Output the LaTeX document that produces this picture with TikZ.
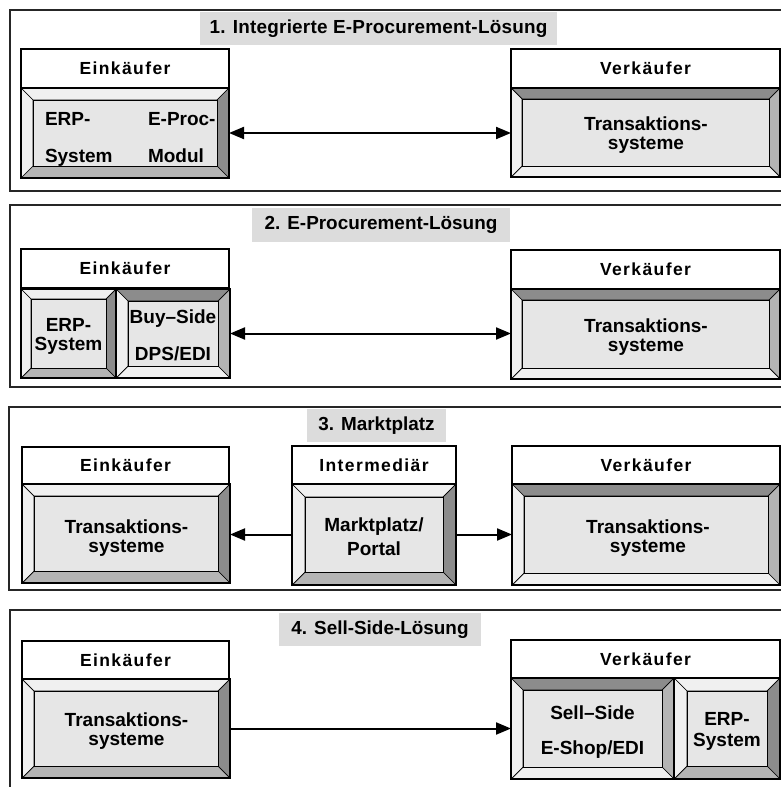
\documentclass[tikz,border=0pt]{standalone}
\usepackage{fontspec}
\setmainfont{Liberation Sans}
\usetikzlibrary{arrows.meta}

\definecolor{bvlight}{HTML}{F0F0F0}
\definecolor{bvface}{HTML}{E6E6E6}
\definecolor{bvmid}{HTML}{B4B4B4}
\definecolor{bvdark}{HTML}{8C8C8C}
\definecolor{ttlgray}{HTML}{DCDCDC}

\tikzset{
  bevraised/.code={\def\bT{bvlight}\def\bR{bvdark}\def\bB{bvmid}\def\bL{bvlight}},
  bevsunken/.code={\def\bT{bvdark}\def\bR{bvmid}\def\bB{bvlight}\def\bL{bvlight}},
  bevedge/.style={draw=black, line width=0.7pt, line join=miter},
  bevouter/.style={draw=black, line width=1.1pt},
  bevanchor/.style={rectangle, inner sep=0pt, outer sep=0pt},
  hdr/.style={draw=black, line width=1.1pt, fill=white, inner sep=0pt, outer sep=0pt,
    font=\fontsize{17.5}{20}\selectfont\bfseries\addfontfeature{LetterSpace=8}},
  ttl/.style={fill=ttlgray, inner sep=0pt, outer sep=0pt,
    font=\fontsize{18.9}{22}\selectfont\bfseries},
  widettl/.style={font=\fontsize{18.9}{22}\selectfont\bfseries\addfontfeature{LetterSpace=1.2}},
  txt/.style={inner sep=0pt, outer sep=0pt, font=\fontsize{19}{22}\selectfont\bfseries},
  frame/.style={draw=black!85, line width=1.2pt},
  arr/.style={line width=2pt, -{Triangle[length=15pt,width=12pt]}},
  arrboth/.style={line width=2pt, {Triangle[length=15pt,width=12pt]}-{Triangle[length=15pt,width=12pt]}},
}

% bevelled box: [style] {name}{x1}{y1}{x2}{y2}{bevel width}
\newcommand\bevbox[7][bevraised]{%
  \tikzset{#1}%
  \node[bevanchor, minimum width={(#5-#3)*1pt}, minimum height={(#6-#4)*1pt}]
    (#2) at ({(#3+#5)/2},{(#4+#6)/2}) {};
  \filldraw[bevedge, fill=\bT] (#3,#4) -- (#5,#4) -- ({#5-#7},{#4+#7}) -- ({#3+#7},{#4+#7}) -- cycle;
  \filldraw[bevedge, fill=\bR] (#5,#4) -- (#5,#6) -- ({#5-#7},{#6-#7}) -- ({#5-#7},{#4+#7}) -- cycle;
  \filldraw[bevedge, fill=\bB] (#5,#6) -- (#3,#6) -- ({#3+#7},{#6-#7}) -- ({#5-#7},{#6-#7}) -- cycle;
  \filldraw[bevedge, fill=\bL] (#3,#6) -- (#3,#4) -- ({#3+#7},{#4+#7}) -- ({#3+#7},{#6-#7}) -- cycle;
  \filldraw[bevedge, fill=bvface] ({#3+#7},{#4+#7}) rectangle ({#5-#7},{#6-#7});
  \draw[bevouter] (#3,#4) rectangle (#5,#6);
}

% header box: {name}{x1}{y1}{x2}{y2}{text}
\newcommand\hdrbox[6]{%
  \node[hdr, minimum width={(#4-#2)*1pt}, minimum height={(#5-#3)*1pt}]
    (#1) at ({(#2+#4)/2},{(#3+#5)/2}) {#6};
}

% title box: [extra style] {name}{x1}{y1}{x2}{y2}{text}
\newcommand\ttlbox[7][]{%
  \node[ttl, #1, minimum width={(#5-#3)*1pt}, minimum height={(#6-#4)*1pt}]
    (#2) at ({(#3+#5)/2},{(#4+#6)/2}) {#7};
}

\begin{document}
\begin{tikzpicture}[x=1pt, y=-1pt]
\useasboundingbox[fill=white] (0,0) rectangle (781,787);

% ---------- 1. Integrierte E-Procurement-Loesung ----------
\draw[frame] (781,10) -- (10,10) -- (10,191) -- (781,191);
\ttlbox[widettl]{t1}{200}{12}{557}{45}{1. Integrierte E-Procurement-Lösung}
\hdrbox{h1a}{21}{49}{229}{88}{Einkäufer}
\bevbox[bevraised]{b1a}{21}{88}{229}{178}{12}
\node[txt, anchor=base west] (x1a) at (45,125) {ERP-};
\node[txt, anchor=base west] (x1b) at (45,162) {System};
\node[txt, anchor=base west] (x1c) at (148,125) {E-Proc-};
\node[txt, anchor=base west] (x1d) at (148,162) {Modul};
\hdrbox{h1b}{511}{49}{780}{88}{Verkäufer}
\bevbox[bevsunken]{b1b}{511}{88}{780}{177}{11}
\node[txt, anchor=base] (x1e) at (646,130) {Transaktions-};
\node[txt, anchor=base] (x1f) at (646,149) {systeme};
\draw[arrboth] (b1a.east) -- (b1a.east -| b1b.west);

% ---------- 2. E-Procurement-Loesung ----------
\draw[frame] (781,205) -- (10,205) -- (10,387) -- (781,387);
\ttlbox{t2}{252}{208}{510}{242}{2. E-Procurement-Lösung}
\hdrbox{h2a}{21}{249}{229}{288}{Einkäufer}
\bevbox[bevraised]{b2a}{21}{289}{116}{378}{10}
\node[txt, anchor=base] (x2a) at (68.5,331) {ERP-};
\node[txt, anchor=base] (x2b) at (68.5,350) {System};
\bevbox[bevsunken]{b2b}{116}{289}{230}{378}{12}
\node[txt, anchor=base] (x2c) at (173,323) {Buy–Side};
\node[txt, anchor=base] (x2d) at (173,360) {DPS/EDI};
\hdrbox{h2b}{511}{250}{780}{289}{Verkäufer}
\bevbox[bevsunken]{b2c}{511}{289}{780}{379}{11}
\node[txt, anchor=base] (x2e) at (646,332.5) {Transaktions-};
\node[txt, anchor=base] (x2f) at (646,351.5) {systeme};
\draw[arrboth] (b2b.east) -- (b2b.east -| b2c.west);

% ---------- 3. Marktplatz ----------
\draw[frame] (781,407) -- (9,407) -- (9,590) -- (781,590);
\ttlbox{t3}{307}{409}{446}{442}{3. Marktplatz}
\hdrbox{h3a}{22}{447}{229}{484}{Einkäufer}
\bevbox[bevraised]{b3a}{22}{484}{230}{583}{12}
\node[txt, anchor=base] (x3a) at (126.5,533) {Transaktions-};
\node[txt, anchor=base] (x3b) at (126.5,552) {systeme};
\hdrbox{h3b}{292}{446}{456}{484}{Intermediär}
\bevbox[bevraised]{b3b}{292}{484}{456}{585}{13}
\node[txt, anchor=base] (x3c) at (374,531) {Marktplatz/};
\node[txt, anchor=base] (x3d) at (374,555) {Portal};
\hdrbox{h3c}{512}{446}{780}{484}{Verkäufer}
\bevbox[bevsunken]{b3c}{512}{484}{780}{585}{12}
\node[txt, anchor=base] (x3e) at (648,533.5) {Transaktions-};
\node[txt, anchor=base] (x3f) at (648,552.5) {systeme};
\draw[arr] (b3b.west) -- (b3b.west -| b3a.east);
\draw[arr] (b3b.east) -- (b3b.east -| b3c.west);

% ---------- 4. Sell-Side-Loesung ----------
\draw[frame] (781,610) -- (10,610) -- (10,787);
\ttlbox{t4}{279}{613}{481}{646}{4. Sell-Side-Lösung}
\hdrbox{h4a}{22}{641}{229}{679}{Einkäufer}
\bevbox[bevraised]{b4a}{22}{679}{230}{778}{12}
\node[txt, anchor=base] (x4a) at (126.5,726.5) {Transaktions-};
\node[txt, anchor=base] (x4b) at (126.5,745.5) {systeme};
\hdrbox{h4b}{511}{640}{780}{678}{Verkäufer}
\bevbox[bevsunken]{b4b}{511}{678}{674}{779}{12}
\node[txt, anchor=base] (x4c) at (592.5,719) {Sell–Side};
\node[txt, anchor=base] (x4d) at (592.5,754) {E-Shop/EDI};
\bevbox[bevraised]{b4c}{674}{678}{780}{779}{13}
\node[txt, anchor=base] (x4e) at (727,725) {ERP-};
\node[txt, anchor=base] (x4f) at (727,746) {System};
\draw[arr] (b4a.east) -- (b4a.east -| b4b.west);
\end{tikzpicture}
\end{document}
